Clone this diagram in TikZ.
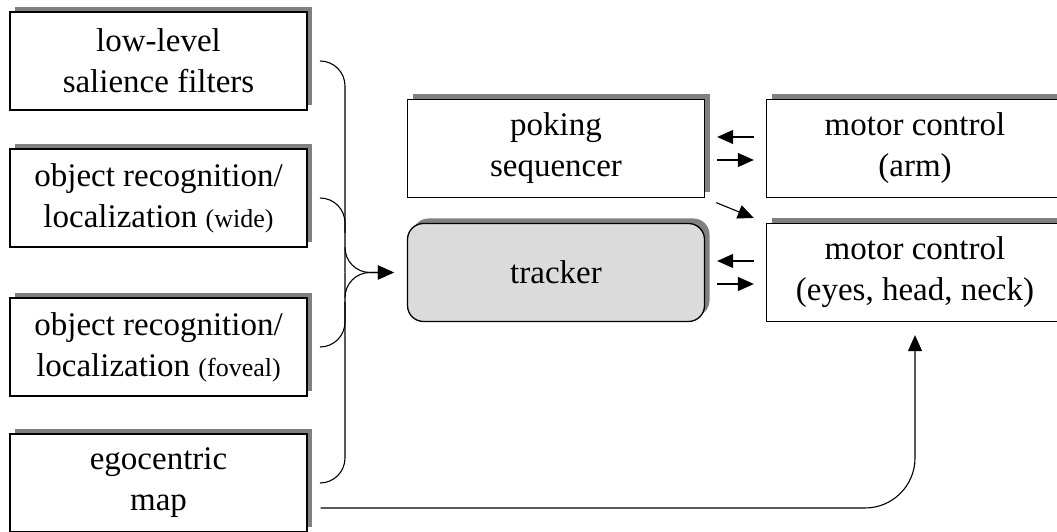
\documentclass[tikz,border=0pt]{standalone}
\usepackage{fontspec}
\setmainfont{Liberation Serif}
\usetikzlibrary{arrows.meta,shadows}
\newcommand{\sidetxt}[1]{{\fontsize{26}{41}\selectfont #1}}

\begin{document}
\begin{tikzpicture}[
        x=1pt, y=1pt,
        font=\fontsize{33}{41}\selectfont,
        box/.style   ={draw, fill=white, minimum width=297pt, minimum height=98pt,
                       align=center, inner sep=0pt, line width=1.3pt,
                       general shadow={fill=gray, shadow xshift=5pt, shadow yshift=5pt}},
        trackbox/.style={box, rounded corners=16pt, fill=gray!28},
        arr/.style   ={-{Triangle[length=16pt, width=14pt]}, line width=1.1pt},
        brace/.style ={line width=1.1pt, rounded corners=25pt},
    ]
    \useasboundingbox (0,0) rectangle (1057,532);

    %% Left -- perception boxes
    \node[box] (sal)  at (158.5, 471) {low-level\\salience filters};
    \node[box] (wide) at (158.5, 334) {object recognition/\\localization \sidetxt{(wide)}};
    \node[box] (fov)  at (158.5, 185) {object recognition/\\localization \sidetxt{(foveal)}};
    \node[box] (ego)  at (158.5,  49) {egocentric\\map};

    %% Middle
    \node[box]      (poke)  at (556, 383.5) {poking\\sequencer};
    \node[trackbox] (track) at (556, 259.5) {tracker};

    %% Right -- motor control
    \node[box] (arm)  at (915, 383.5) {motor control\\(arm)};
    \node[box] (eyes) at (915, 259.5) {motor control\\(eyes, head, neck)};

    %% Brace into the tracker
    \coordinate (join) at (345, 259.5);
    \draw[brace] ([xshift=13pt]sal.east) -| (join);
    \draw[brace] ([xshift=13pt]ego.east) -| (join);
    \draw[brace] ([xshift=13pt]wide.east) -| ([yshift=-35pt]wide.east -| join);
    \draw[brace] ([xshift=13pt]fov.east) -| ([yshift=45pt]fov.east -| join);
    \draw[arr, rounded corners=25pt] ([yshift=25pt]join) |- ([xshift=-13pt]track.west);
    \draw[arr, rounded corners=25pt] ([yshift=-25pt]join) |- ([xshift=-13pt]track.west);

    %% Sequencer / tracker <-> motor control
    \foreach \src/\dst in {poke/arm, track/eyes} {
        \draw[arr, shorten <=12pt, shorten >=12pt]
            ([yshift=11.5pt]\dst.west) -- ([yshift=11.5pt]\src.east);
        \draw[arr, shorten <=12pt, shorten >=12pt]
            ([yshift=-11.5pt]\src.east) -- ([yshift=-11.5pt]\dst.west);
    }
    \draw[arr, shorten <=12pt, shorten >=13pt] (poke.south east) -- (eyes.north west);

    %% Egocentric map -> eye/head control
    \draw[arr, rounded corners=50pt] ([xshift=13pt, yshift=-25pt]ego.east)
        -| ([yshift=-13pt]eyes.south);
\end{tikzpicture}
\end{document}
